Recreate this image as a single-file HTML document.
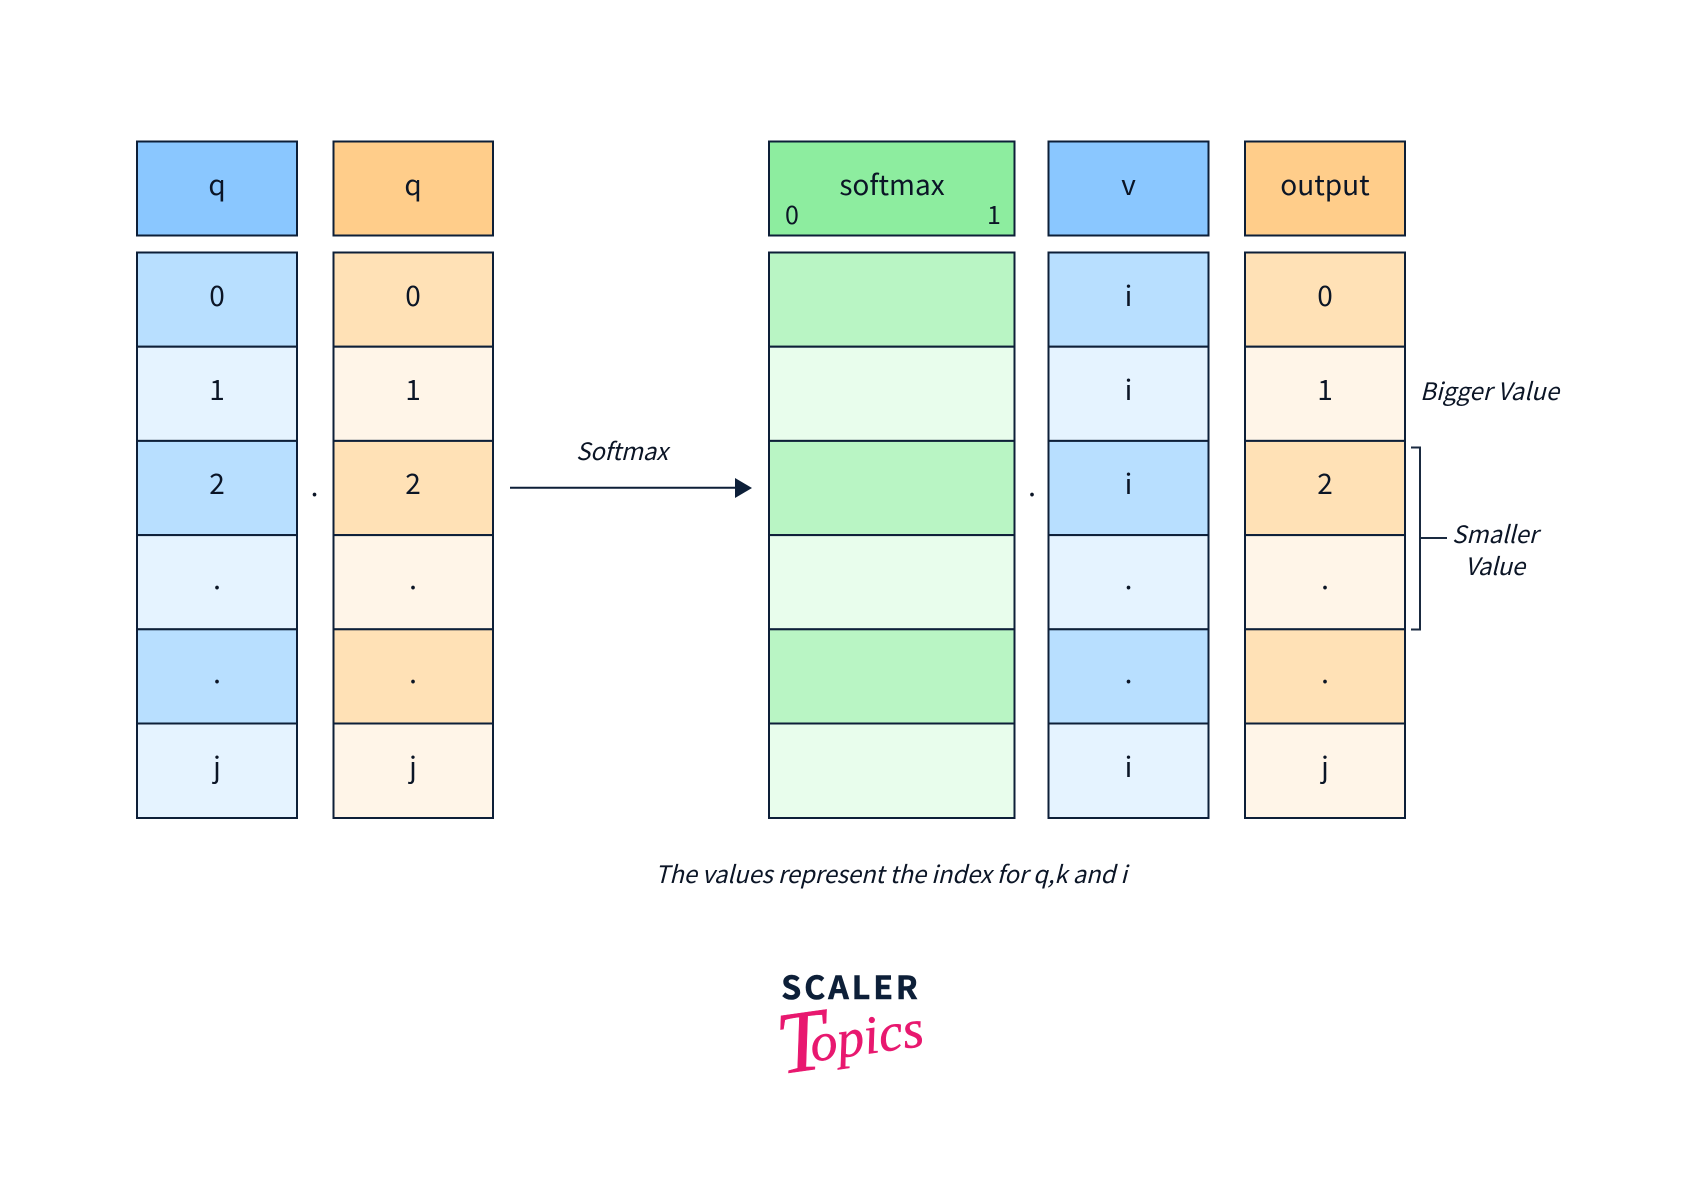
<!DOCTYPE html>
<html><head><meta charset="utf-8"><title>Softmax diagram</title>
<style>
html,body{margin:0;padding:0;background:#fff;width:1700px;height:1194px;overflow:hidden}
svg{display:block}
text{font-family:"Noto Sans CJK JP","Liberation Sans",sans-serif;fill:#0b1526}
.c{font-size:28px;text-anchor:middle}
.i{font-size:24px;font-style:italic}
rect{stroke:#0d1f38;stroke-width:2}
</style></head><body>
<svg width="1700" height="1194" viewBox="0 0 1700 1194" xmlns="http://www.w3.org/2000/svg">
<rect x="0" y="0" width="1700" height="1194" fill="#fff" stroke="none" style="stroke:none"/>

<!-- col 1 -->
<rect x="137" y="141.5" width="160" height="94" fill="#8ac7ff"/>
<rect x="137" y="252.5" width="160" height="94.2" fill="#b8dfff"/>
<rect x="137" y="346.7" width="160" height="94.2" fill="#e5f3ff"/>
<rect x="137" y="440.9" width="160" height="94.2" fill="#b8dfff"/>
<rect x="137" y="535.1" width="160" height="94.2" fill="#e5f3ff"/>
<rect x="137" y="629.3" width="160" height="94.2" fill="#b8dfff"/>
<rect x="137" y="723.5" width="160" height="94.5" fill="#e5f3ff"/>
<text class="c" x="217" y="195">q</text>
<text class="c" x="217" y="306">0</text>
<text class="c" x="217" y="400">1</text>
<text class="c" x="217" y="494">2</text>
<text class="c" x="217" y="589">.</text>
<text class="c" x="217" y="683">.</text>
<text class="c" x="217" y="777">j</text>

<!-- col 2 -->
<rect x="333.5" y="141.5" width="159.5" height="94" fill="#ffcd8a"/>
<rect x="333.5" y="252.5" width="159.5" height="94.2" fill="#ffe1b6"/>
<rect x="333.5" y="346.7" width="159.5" height="94.2" fill="#fff5e8"/>
<rect x="333.5" y="440.9" width="159.5" height="94.2" fill="#ffe1b6"/>
<rect x="333.5" y="535.1" width="159.5" height="94.2" fill="#fff5e8"/>
<rect x="333.5" y="629.3" width="159.5" height="94.2" fill="#ffe1b6"/>
<rect x="333.5" y="723.5" width="159.5" height="94.5" fill="#fff5e8"/>
<text class="c" x="413" y="195">q</text>
<text class="c" x="413" y="306">0</text>
<text class="c" x="413" y="400">1</text>
<text class="c" x="413" y="494">2</text>
<text class="c" x="413" y="589">.</text>
<text class="c" x="413" y="683">.</text>
<text class="c" x="413" y="777">j</text>

<!-- softmax col -->
<rect x="769" y="141.5" width="245.5" height="94" fill="#8ded9f"/>
<rect x="769" y="252.5" width="245.5" height="94.2" fill="#b9f5c4"/>
<rect x="769" y="346.7" width="245.5" height="94.2" fill="#e8fdec"/>
<rect x="769" y="440.9" width="245.5" height="94.2" fill="#b9f5c4"/>
<rect x="769" y="535.1" width="245.5" height="94.2" fill="#e8fdec"/>
<rect x="769" y="629.3" width="245.5" height="94.2" fill="#b9f5c4"/>
<rect x="769" y="723.5" width="245.5" height="94.5" fill="#e8fdec"/>
<text class="c" x="892" y="195">softmax</text>
<text x="792" y="224" text-anchor="middle" style="font-size:25px">0</text>
<text x="994" y="224" text-anchor="middle" style="font-size:25px">1</text>

<!-- v col -->
<rect x="1048.5" y="141.5" width="160" height="94" fill="#8ac7ff"/>
<rect x="1048.5" y="252.5" width="160" height="94.2" fill="#b8dfff"/>
<rect x="1048.5" y="346.7" width="160" height="94.2" fill="#e5f3ff"/>
<rect x="1048.5" y="440.9" width="160" height="94.2" fill="#b8dfff"/>
<rect x="1048.5" y="535.1" width="160" height="94.2" fill="#e5f3ff"/>
<rect x="1048.5" y="629.3" width="160" height="94.2" fill="#b8dfff"/>
<rect x="1048.5" y="723.5" width="160" height="94.5" fill="#e5f3ff"/>
<text class="c" x="1128.5" y="195">v</text>
<text class="c" x="1128.5" y="306">i</text>
<text class="c" x="1128.5" y="400">i</text>
<text class="c" x="1128.5" y="494">i</text>
<text class="c" x="1128.5" y="589">.</text>
<text class="c" x="1128.5" y="683">.</text>
<text class="c" x="1128.5" y="777">i</text>

<!-- output col -->
<rect x="1245" y="141.5" width="160" height="94" fill="#ffcd8a"/>
<rect x="1245" y="252.5" width="160" height="94.2" fill="#ffe1b6"/>
<rect x="1245" y="346.7" width="160" height="94.2" fill="#fff5e8"/>
<rect x="1245" y="440.9" width="160" height="94.2" fill="#ffe1b6"/>
<rect x="1245" y="535.1" width="160" height="94.2" fill="#fff5e8"/>
<rect x="1245" y="629.3" width="160" height="94.2" fill="#ffe1b6"/>
<rect x="1245" y="723.5" width="160" height="94.5" fill="#fff5e8"/>
<text class="c" x="1325" y="195">output</text>
<text class="c" x="1325" y="306">0</text>
<text class="c" x="1325" y="400">1</text>
<text class="c" x="1325" y="494">2</text>
<text class="c" x="1325" y="589">.</text>
<text class="c" x="1325" y="683">.</text>
<text class="c" x="1325" y="777">j</text>

<!-- dots between columns -->
<text class="c" x="314.5" y="496">.</text>
<text class="c" x="1032" y="496">.</text>

<!-- arrow -->
<line x1="510" y1="487.7" x2="738" y2="487.7" stroke="#0d1f38" stroke-width="2"/>
<polygon points="735,478 752,488 735,498" fill="#0d1f38"/>
<text class="i" x="576" y="460" textLength="92">Softmax</text>

<!-- bracket -->
<polyline points="1411,447.5 1420,447.5 1420,629.5 1411,629.5" fill="none" stroke="#1a2a40" stroke-width="2"/>
<line x1="1420" y1="538" x2="1447" y2="538" stroke="#1a2a40" stroke-width="2"/>
<text class="i" x="1420" y="400" textLength="139">Bigger Value</text>
<text class="i" x="1452" y="543" textLength="86">Smaller</text>
<text class="i" x="1465" y="575" textLength="60">Value</text>

<text class="i" x="655" y="883" textLength="472">The values represent the index for q,k and i</text>

<!-- logo -->
<text x="851" y="999" text-anchor="middle" style="font-size:32px;font-weight:700;letter-spacing:3px;fill:#0d1f38;stroke:#0d1f38;stroke-width:.6">SCALER</text>
<text transform="translate(781,1074) rotate(-8)" style="font-family:'Liberation Serif',serif;font-style:italic;fill:#e8186f;stroke:#e8186f;stroke-width:.5"><tspan style="font-size:88px">T</tspan><tspan dx="-16" dy="-8" style="font-size:54px">opics</tspan></text>
</svg>
</body></html>
